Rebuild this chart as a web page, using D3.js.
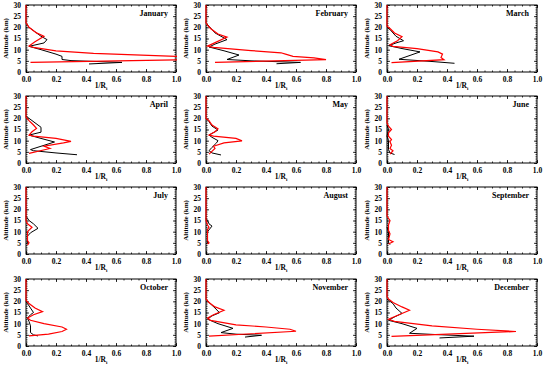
<!DOCTYPE html>
<html><head><meta charset="utf-8">
<script src="https://cdn.jsdelivr.net/npm/d3@7"></script>
<style>body{margin:0;background:#fff}svg{display:block}text{font-family:"Liberation Serif","DejaVu Serif",serif;font-weight:bold}</style>
</head><body><svg id="c" width="550" height="366"></svg>
<script>
const months = ["January","February","March","April","May","June","July","August","September","October","November","December"];
const xTicks = [0, 0.2, 0.4, 0.6, 0.8, 1.0];
const yTicks = [0, 5, 10, 15, 20, 25, 30];
// profiles: [value (1/Ri), altitude (km)]
const redProfiles = [
 [[0.03,4.3],[1.0,5.4],[1.4,6.2],[1.0,7.0],[0.45,8.3],[0.2,9.5],[0.05,11],[0.02,11.6],[0.06,13.5],[0.12,16],[0.07,17.5],[0.02,20],[0,22],[0,30]],
 [[0.06,4.3],[0.8,5.5],[0.72,6.3],[0.58,7],[0.53,8],[0.5,8.6],[0.3,9.6],[0.05,11],[0.01,11.6],[0.05,12.8],[0.14,15.6],[0.08,17],[0.03,19.5],[0.01,21],[0,22],[0,30]],
 [[0.03,4.2],[0.38,5.5],[0.36,6.5],[0.37,8],[0.34,9],[0.2,10.5],[0.04,11.5],[0.02,12.2],[0.07,14],[0.1,15.8],[0.05,17.5],[0.02,19.5],[0,20.5],[0,30]],
 [[0.02,4.3],[0.16,6.5],[0.12,7.5],[0.25,9],[0.3,9.7],[0.2,11],[0.05,12],[0.02,12.5],[0.04,14],[0.07,15.5],[0.05,17],[0.02,19],[0,20.5],[0,30]],
 [[0.02,4],[0.06,6.5],[0.05,7.5],[0.12,9],[0.24,9.9],[0.2,11],[0.05,12],[0.02,12.5],[0.06,14],[0.08,15.3],[0.04,17],[0.02,19],[0,20],[0,30]],
 [[0.02,4],[0.04,5.5],[0.02,6.5],[0.03,8],[0.02,9.5],[0.03,10.5],[0.01,12],[0.01,13.5],[0.03,15],[0.01,16.5],[0,18],[0,30]],
 [[0.01,4],[0.02,5],[0.01,6],[0.01,10],[0.04,12],[0.01,13.5],[0,15],[0,30]],
 [[0.01,4.5],[0.02,5],[0.01,6],[0.01,11],[0.02,12],[0.01,13],[0,15],[0,30]],
 [[0.01,4.5],[0.04,5.5],[0.01,6.5],[0.02,9],[0.01,10.5],[0.01,13],[0.02,15],[0,17],[0,30]],
 [[0.02,4.5],[0.15,5.3],[0.24,6.5],[0.27,7.5],[0.24,8.5],[0.12,10],[0.03,11.5],[0.01,12.5],[0.05,14],[0.11,15.4],[0.06,17],[0.02,19],[0,20.5],[0,30]],
 [[0.02,4.4],[0.6,6.6],[0.56,7.5],[0.4,8.5],[0.2,9.5],[0.03,11.5],[0.01,12.5],[0.05,14],[0.12,16],[0.06,17.5],[0.02,19.5],[0,21],[0,30]],
 [[0.03,4.3],[0.86,6.5],[0.6,7.5],[0.3,9],[0.05,11],[0.01,12],[0.08,14],[0.15,16],[0.1,17.5],[0.04,19.5],[0.01,21],[0,22],[0,30]]
];
const blackProfiles = [
 [[0.42,3.6],[0.64,4.3],[0.3,5.1],[0.24,5.6],[0.24,7],[0.2,8],[0.1,10],[0.02,11.5],[0.12,13],[0.14,14.5],[0.1,16],[0.06,18],[0.02,20],[0,22]],
 [[0.47,3.7],[0.63,4.3],[0.3,5],[0.14,5.6],[0.22,7.6],[0.12,9.5],[0.02,11.2],[0.06,12.5],[0.14,14.5],[0.1,16],[0.06,17.5],[0.04,19],[0.02,20.5],[0,22]],
 [[0.45,3.9],[0.3,4.7],[0.08,5.7],[0.22,9],[0.1,10.5],[0.01,11.8],[0.06,13],[0.11,14],[0.06,16],[0.02,19],[0,20]],
 [[0.34,3.7],[0.2,4.5],[0.05,5.5],[0.03,6],[0.1,7.5],[0.19,9.4],[0.1,11],[0.02,12.5],[0.1,13.8],[0.1,16],[0.06,18],[0.02,20],[0,21]],
 [[0.1,3.6],[0.04,4.5],[0.02,5.5],[0.04,7],[0.07,9],[0.08,10],[0.04,11.5],[0.02,12.5],[0.06,14],[0.08,14.8],[0.04,16.5],[0.02,18.5],[0,20]],
 [[0.05,3.8],[0.02,4.5],[0.01,6],[0.01,10],[0,12],[0.01,15],[0,17]],
 [[0.01,5],[0.01,8],[0.03,9.5],[0.08,11.5],[0.05,13.5],[0.02,15],[0,17]],
 [[0.01,5],[0.01,10],[0.04,12.5],[0.02,13.5],[0.01,15],[0,16]],
 [[0.02,4.2],[0.01,5],[0.01,10],[0,12]],
 [[0.08,4.5],[0.05,5],[0.03,6],[0.03,9],[0.02,11],[0.01,12.5],[0.03,14],[0.05,15],[0.03,17],[0.01,19],[0,20]],
 [[0.26,4],[0.37,4.8],[0.2,5.3],[0.1,6],[0.18,7.9],[0.08,10],[0.01,12],[0.04,13.5],[0.09,14.9],[0.06,17],[0.02,19.5],[0,21]],
 [[0.35,3.6],[0.58,4.4],[0.3,5.2],[0.15,5.7],[0.2,7.9],[0.1,10],[0.01,11.5],[0.05,13],[0.1,14.6],[0.06,17],[0.04,19],[0,21]]
];

const colLeft = [26, 206, 387];
const rowTop = [5, 96, 187, 279];
const pw = 150, ph = 67;
const svg = d3.select("#c");
const defs = svg.append("defs");

months.forEach((m, i) => {
  const r = Math.floor(i / 3), c = i % 3;
  const g = svg.append("g").attr("transform", `translate(${colLeft[c]},${rowTop[r]})`);
  const x = d3.scaleLinear().domain([0, 1]).range([0, pw]);
  const y = d3.scaleLinear().domain([0, 30]).range([ph, 0]);
  defs.append("clipPath").attr("id", "cp" + i).append("rect").attr("x", -1).attr("y", -1).attr("width", pw + 2).attr("height", ph + 2);

  const minorX = d3.range(0, 1.0001, 0.05);
  const minorY = d3.range(0, 30.001, 1);
  const gb = g.append("g").attr("transform", `translate(0,${ph})`).call(d3.axisBottom(x).tickValues(xTicks).tickFormat(d3.format(".1f")).tickSizeInner(-3).tickSizeOuter(0).tickPadding(5));
  const gl = g.append("g").call(d3.axisLeft(y).tickValues(yTicks).tickFormat(d3.format("d")).tickSizeInner(-3).tickSizeOuter(0).tickPadding(5));
  g.append("g").call(d3.axisTop(x).tickValues(xTicks).tickSizeInner(-3).tickSizeOuter(0).tickFormat(""));
  g.append("g").attr("transform", `translate(${pw},0)`).call(d3.axisRight(y).tickValues(yTicks).tickSizeInner(-3).tickSizeOuter(0).tickFormat(""));
  g.append("g").attr("transform", `translate(0,${ph})`).call(d3.axisBottom(x).tickValues(minorX).tickSize(-1.5).tickFormat(""));
  g.append("g").call(d3.axisTop(x).tickValues(minorX).tickSize(-1.5).tickFormat(""));
  g.append("g").call(d3.axisLeft(y).tickValues(minorY).tickSize(-1.5).tickFormat(""));
  g.append("g").attr("transform", `translate(${pw},0)`).call(d3.axisRight(y).tickValues(minorY).tickSize(-1.5).tickFormat(""));
  g.selectAll(".domain").remove();
  g.selectAll(".tick line").attr("stroke", "#000").attr("stroke-width", 0.8);
  gb.selectAll("text").attr("font-size", 7.5).attr("fill", "#000");
  gl.selectAll("text").attr("font-size", 7.5).attr("fill", "#000");
  g.append("rect").attr("width", pw).attr("height", ph).attr("fill", "none").attr("stroke", "#000").attr("stroke-width", 1);

  const line = d3.line().x(d => x(d[0])).y(d => y(d[1]));
  const lg = g.append("g").attr("clip-path", `url(#cp${i})`);
  lg.append("path").datum(blackProfiles[i]).attr("d", line).attr("fill", "none").attr("stroke", "#000").attr("stroke-width", 1);
  lg.append("path").datum(redProfiles[i]).attr("d", line).attr("fill", "none").attr("stroke", "#ff0000").attr("stroke-width", 1.2);

  g.append("text").attr("x", pw - 8).attr("y", 11).attr("text-anchor", "end").attr("font-size", 8).text(m);
  const xl = g.append("text").attr("x", pw / 2).attr("y", ph + 16).attr("text-anchor", "middle").attr("font-size", 7.5);
  xl.append("tspan").text("1/R");
  xl.append("tspan").attr("font-size", 5).attr("dy", 1.5).text("i");
  g.append("text").attr("transform", `translate(-18,${ph / 2}) rotate(-90)`).attr("text-anchor", "middle").attr("font-size", 7).text("Altitude (km)");
});
</script></body></html>
